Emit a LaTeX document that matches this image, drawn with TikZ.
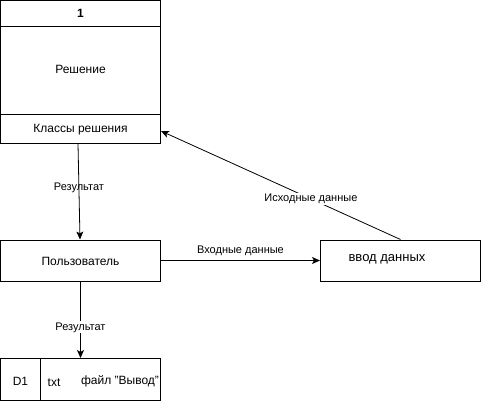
\documentclass[tikz,border=0pt]{standalone}
\usepackage{fontspec}
\setmainfont{Liberation Sans}
\usetikzlibrary{arrows.meta}
\begin{document}
\begin{tikzpicture}[x=1pt,y=-1pt,
  box/.style={draw=black,line width=1pt,inner sep=0pt},
  txt/.style={font=\fontsize{12}{14}\selectfont,inner sep=1pt},
  lbl/.style={font=\fontsize{11}{13}\selectfont,inner sep=1pt},
  arr/.style={draw=black,line width=0.8pt,-{Stealth[length=8pt,width=7pt,inset=2pt]}}]
\useasboundingbox (0,0) rectangle (482,402);
% top box
\draw[line width=1pt] (0.5,0.5) rectangle (160.5,143.5);
\draw[line width=1pt] (0.5,26.5) -- (160.5,26.5);
\draw[line width=1pt] (0.5,114.5) -- (160.5,114.5);
\node[txt,font=\fontsize{12}{14}\selectfont\bfseries] (num) at (80.5,13.5) {1};
\node[txt] (resh) at (80.5,69) {Решение};
\node[txt] (klass) at (80.5,130) {Классы решения};
\coordinate (topbot) at (78,143.5);
\coordinate (topright) at (161,131);
% user
\node[box,minimum width=160pt,minimum height=41pt] (user) at (80.5,260.5) {};
\node[txt] (usertxt) at (80.5,261) {Пользователь};
% input
\node[box,minimum width=160pt,minimum height=41pt] (vvod) at (400.5,260.5) {};
\node[font=\fontsize{13}{15}\selectfont,inner sep=0pt] (vvodtxt) at (387,259.5) {ввод данных};
% D1
\draw[line width=1pt] (0.5,358.5) rectangle (160.5,400.5);
\draw[line width=1pt] (40.5,358.5) -- (40.5,400.5);
\node[txt] (d1) at (20.5,381) {D1};
\node[txt] (ext) at (54,383) {txt};
\node[txt] (fajl) at (120,381) {файл "Вывод"};
\coordinate (d1top) at (80.5,358);
% arrows
\draw[arr] (topbot) -- (user.north -| 80,0) node[lbl,pos=0.46] {Результат};
\draw[arr] (user.east) -- (vvod.west) node[lbl,midway,above=3pt] {Входные данные};
\draw[arr] (vvod.north) -- (topright) node[lbl,pos=0.374,fill=white] {Исходные данные};
\draw[arr] (user.south) -- (d1top) node[lbl,pos=0.6,fill=white] {Результат};
\end{tikzpicture}
\end{document}
